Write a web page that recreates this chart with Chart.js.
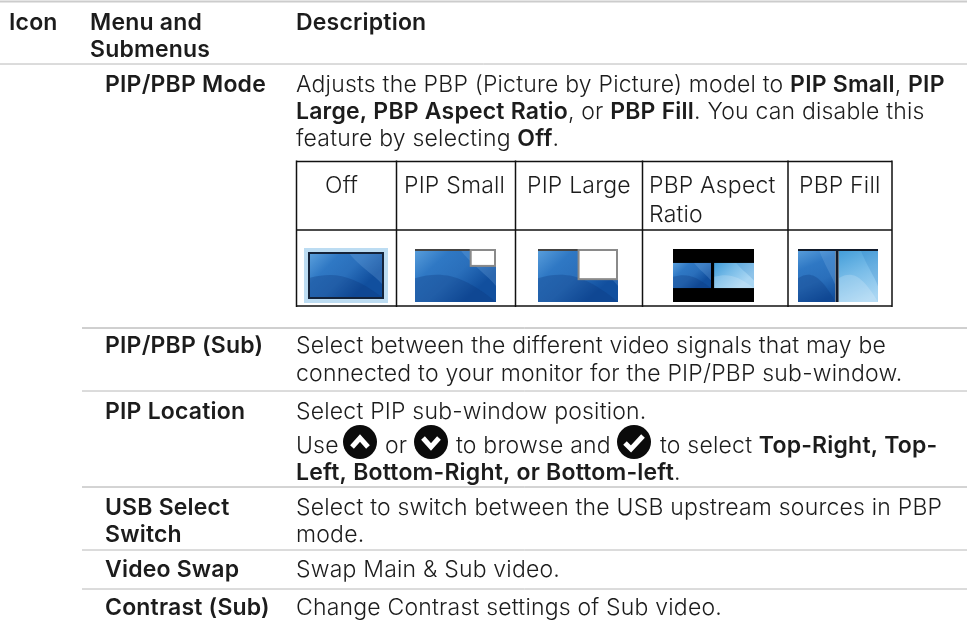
<!DOCTYPE html>
<html>
<head>
<meta charset="utf-8">
<title>PIP/PBP menu</title>
<script src="https://cdn.jsdelivr.net/npm/chart.js@4"></script>
<style>
html, body { margin: 0; background: #fff; }
canvas { display: block; }
</style>
</head>
<body>
<canvas id="menuChart" width="967" height="629"></canvas>
<script>
// text of the page
var headerLabels = ['Icon', 'Menu and', 'Submenus', 'Description'];
var menuLabels = ['PIP/PBP Mode', 'PIP/PBP (Sub)', 'PIP Location', 'USB Select', 'Switch', 'Video Swap', 'Contrast (Sub)'];
var modeLabels = ['Off', 'PIP Small', 'PIP Large', 'PBP Aspect', 'Ratio', 'PBP Fill'];
var thumbKinds = ['off', 'small', 'large', 'aspect', 'fill'];
// ** marks bold runs
var descLines = [
    'Adjusts the PBP (Picture by Picture) model to **PIP Small**, **PIP**',
    '**Large, PBP Aspect Ratio**, or **PBP Fill**. You can disable this',
    'feature by selecting **Off**.',
    'Select between the different video signals that may be',
    'connected to your monitor for the PIP/PBP sub-window.',
    'Select PIP sub-window position.',
    '**Left, Bottom-Right, or Bottom-left**.',
    'Select to switch between the USB upstream sources in PBP',
    'mode.',
    'Swap Main & Sub video.',
    'Change Contrast settings of Sub video.'
];
var useLine = ['Use', 'or', 'to browse and', 'to select'];
var useLineBold = 'Top-Right, Top-';

// layout, in page pixels
var headerPos = [[9, 30], [90, 30], [90, 57], [296, 30]];
var menuPos = [[105, 92], [105, 353], [105, 419], [105, 515], [105, 542], [105, 577], [105, 615]];
var descY = [92, 119, 146, 353, 381, 419, 480, 515, 542, 577, 615];
var modePos = [[325, 193], [404, 193], [527, 193], [649, 193], [649, 222], [799, 193]];
var useY = 453;
var useX = [296, 385, 456, 660];
var iconX = [360, 431, 634];
var iconY = 442;
var iconR = 17;
var ruleRows = [[0, 1.5, 2, '#cccccc'], [0, 64, 1, '#b8b8b8'], [82, 328, 1, '#a0a0a0'], [82, 391, 1, '#b8b8b8'], [82, 487, 1, '#a8a8a8'], [82, 550, 1, '#b8b8b8'], [82, 589, 1, '#b8b8b8']];
var gridX = [296.5, 396.5, 515.5, 642.5, 788, 892];
var gridY = [161.5, 230, 306];
var thumbBox = [[304, 388, 248, 303], [415, 496, 249, 302], [538, 618, 249, 302], [673, 754, 249, 302], [798, 878, 249, 302]];

var regularFont = '300 23px Inter';
var boldFont = '600 23px Inter';
var textSpacing = '0.2px';
var inkColor = '#1c1c1c';

function lineSet(points, color, width) {
    return {
        type: 'scatter',
        showLine: true,
        data: points,
        borderColor: color,
        borderWidth: width,
        pointRadius: 0,
        borderCapStyle: 'butt',
        order: 0
    };
}

var datasets = [];
ruleRows.forEach(function (r) {
    datasets.push(lineSet([{ x: r[0], y: r[1] }, { x: 967, y: r[1] }], r[3], r[2]));
});
gridX.forEach(function (x) {
    datasets.push(lineSet([{ x: x, y: gridY[0] - 1 }, { x: x, y: gridY[2] + 1 }], '#111111', 1.5));
});
gridY.forEach(function (y) {
    datasets.push(lineSet([{ x: gridX[0], y: y }, { x: gridX[5], y: y }], '#111111', 1.5));
});
// round black buttons
datasets.push({
    type: 'scatter',
    data: iconX.map(function (x) { return { x: x, y: iconY }; }),
    pointRadius: iconR,
    pointBackgroundColor: '#0b0b0b',
    pointBorderWidth: 0,
    order: 1
});
// white glyphs on the buttons
datasets.push(lineSet([{ x: iconX[0] - 8, y: iconY + 5 }, { x: iconX[0], y: iconY - 4 }, { x: iconX[0] + 8, y: iconY + 5 }], '#ffffff', 5));
datasets.push(lineSet([{ x: iconX[1] - 8, y: iconY - 4 }, { x: iconX[1], y: iconY + 5 }, { x: iconX[1] + 8, y: iconY - 4 }], '#ffffff', 5));
datasets.push(lineSet([{ x: iconX[2] - 9, y: iconY + 1 }, { x: iconX[2] - 3, y: iconY + 7 }, { x: iconX[2] + 9, y: iconY - 6 }], '#ffffff', 5));

function drawRuns(ctx, line, x, y) {
    var parts = line.split('**');
    parts.forEach(function (part, i) {
        ctx.font = i % 2 ? boldFont : regularFont;
        ctx.fillText(part, x, y);
        x += ctx.measureText(part).width;
    });
}

function blueFill(ctx, x0, x1, y0, y1, light) {
    var w = x1 - x0, h = y1 - y0;
    var g = ctx.createLinearGradient(x0, y0, x0 + w * 0.6, y1);
    if (light) {
        g.addColorStop(0, '#3f9bd8');
        g.addColorStop(0.5, '#78bce8');
        g.addColorStop(1, '#a9d6f3');
    } else {
        g.addColorStop(0, '#5a9fdc');
        g.addColorStop(0.35, '#2f78c4');
        g.addColorStop(0.65, '#2a6fbb');
        g.addColorStop(1, '#114f9e');
    }
    ctx.save();
    ctx.beginPath();
    ctx.rect(x0, y0, w, h);
    ctx.clip();
    ctx.fillStyle = g;
    ctx.fillRect(x0, y0, w, h);
    // soft wave across the panel
    ctx.fillStyle = light ? 'rgba(255,255,255,0.18)' : 'rgba(10,50,120,0.28)';
    ctx.beginPath();
    ctx.moveTo(x0, y0 + h * 0.55);
    ctx.bezierCurveTo(x0 + w * 0.35, y0 + h * 0.4, x0 + w * 0.6, y0 + h * 0.5, x1, y1);
    ctx.lineTo(x0, y1);
    ctx.closePath();
    ctx.fill();
    ctx.fillStyle = light ? 'rgba(20,110,190,0.18)' : 'rgba(140,190,235,0.22)';
    ctx.beginPath();
    ctx.moveTo(x0 + w * 0.55, y0);
    ctx.bezierCurveTo(x0 + w * 0.7, y0 + h * 0.3, x1 - w * 0.1, y0 + h * 0.5, x1, y0 + h * 0.7);
    ctx.lineTo(x1, y0);
    ctx.closePath();
    ctx.fill();
    ctx.restore();
}

function drawThumb(ctx, kind, x0, x1, y0, y1) {
    var w = x1 - x0, h = y1 - y0;
    if (kind === 'off') {
        ctx.fillStyle = '#bcdcf2';
        ctx.fillRect(x0, y0, w, h);
        ctx.fillStyle = '#14233a';
        ctx.fillRect(x0 + 4, y0 + 4, w - 8, h - 8);
        blueFill(ctx, x0 + 6, x1 - 6, y0 + 6, y1 - 6, false);
    } else if (kind === 'small' || kind === 'large') {
        blueFill(ctx, x0, x1, y0, y1, false);
        ctx.fillStyle = '#444444';
        ctx.fillRect(x0, y0, w, 2);
        var iw = kind === 'small' ? w * 0.3 : w * 0.48;
        var ih = kind === 'small' ? h * 0.3 : h * 0.55;
        ctx.fillStyle = '#8a8a8a';
        ctx.fillRect(x1 - iw - 2, y0, iw + 2, ih + 2);
        ctx.fillStyle = '#ffffff';
        ctx.fillRect(x1 - iw, y0 + 2, iw - 2, ih - 2);
    } else if (kind === 'aspect') {
        ctx.fillStyle = '#000000';
        ctx.fillRect(x0, y0, w, h);
        var top = y0 + h * 0.26, bot = y1 - h * 0.26, mid = x0 + w * 0.47;
        blueFill(ctx, x0, mid, top, bot, false);
        blueFill(ctx, mid + 3, x1, top, bot, true);
    } else {
        var m = x0 + w * 0.47;
        blueFill(ctx, x0, m, y0, y1, false);
        blueFill(ctx, m + 3, x1, y0, y1, true);
        ctx.fillStyle = '#111a2a';
        ctx.fillRect(m, y0, 3, h);
        ctx.fillRect(x0, y0, w, 2);
    }
}

var pagePlugin = {
    id: 'pagePlugin',
    beforeDatasetsDraw: function (chart) {
        var ctx = chart.ctx, sx = chart.scales.x, sy = chart.scales.y;
        thumbKinds.forEach(function (kind, i) {
            var b = thumbBox[i];
            drawThumb(ctx, kind, sx.getPixelForValue(b[0]), sx.getPixelForValue(b[1]), sy.getPixelForValue(b[2]), sy.getPixelForValue(b[3]));
        });
    },
    afterDatasetsDraw: function (chart) {
        var ctx = chart.ctx, sx = chart.scales.x, sy = chart.scales.y;
        ctx.save();
        ctx.fillStyle = inkColor;
        ctx.textBaseline = 'alphabetic';
        ctx.textAlign = 'left';
        ctx.letterSpacing = textSpacing;
        ctx.font = boldFont;
        headerLabels.forEach(function (t, i) {
            ctx.fillText(t, sx.getPixelForValue(headerPos[i][0]), sy.getPixelForValue(headerPos[i][1]));
        });
        menuLabels.forEach(function (t, i) {
            ctx.fillText(t, sx.getPixelForValue(menuPos[i][0]), sy.getPixelForValue(menuPos[i][1]));
        });
        ctx.font = regularFont;
        modeLabels.forEach(function (t, i) {
            ctx.fillText(t, sx.getPixelForValue(modePos[i][0]), sy.getPixelForValue(modePos[i][1]));
        });
        descLines.forEach(function (line, i) {
            drawRuns(ctx, line, sx.getPixelForValue(296), sy.getPixelForValue(descY[i]));
        });
        useLine.forEach(function (t, i) {
            ctx.font = regularFont;
            ctx.fillText(t, sx.getPixelForValue(useX[i]), sy.getPixelForValue(useY));
            if (i === 3) {
                var end = useX[i] + ctx.measureText(t + ' ').width;
                ctx.font = boldFont;
                ctx.fillText(useLineBold, sx.getPixelForValue(end), sy.getPixelForValue(useY));
            }
        });
        ctx.restore();
    }
};

var ctx = document.getElementById('menuChart').getContext('2d');
var myChart = new Chart(ctx, {
    data: { datasets: datasets },
    plugins: [pagePlugin],
    options: {
        responsive: false,
        animation: false,
        events: [],
        layout: { padding: 0, autoPadding: false },
        plugins: { legend: { display: false }, tooltip: { enabled: false } },
        scales: {
            x: { type: 'linear', min: 0, max: 967, display: false },
            y: { type: 'linear', min: 0, max: 629, reverse: true, display: false }
        }
    }
});
</script>
</body>
</html>
